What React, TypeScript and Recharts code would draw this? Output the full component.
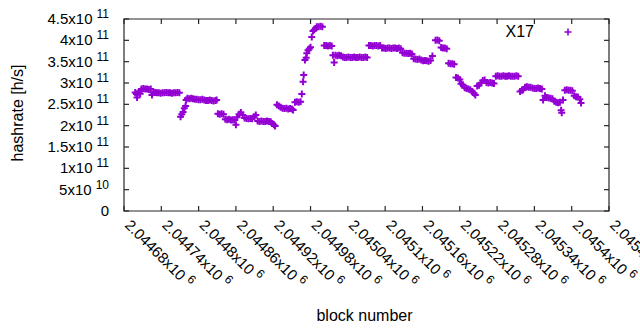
import React from 'react';
import { ScatterChart, Scatter, XAxis, YAxis, Legend, Label } from 'recharts';

const seriesName = 'X17';
const xTitle = 'block number';
const yTitle = 'hashrate [h/s]';

const blockDomain = [2044680, 2045460];
const hashDomain = [0, 4.5e11];
const blockTicks = [
  2044680, 2044740, 2044800, 2044860, 2044920, 2044980, 2045040,
  2045100, 2045160, 2045220, 2045280, 2045340, 2045400, 2045460,
];
const hashTicks = [0, 5e10, 1e11, 1.5e11, 2e11, 2.5e11, 3e11, 3.5e11, 4e11, 4.5e11];

// [block number, hashrate in units of 1e11 h/s]
const samples: [number, number][] = [
  [2044698, 2.78], [2044700, 2.74], [2044701, 2.66], [2044703, 2.77], [2044705, 2.8], [2044706, 2.75],
  [2044708, 2.86], [2044711, 2.87], [2044714, 2.86], [2044717, 2.86], [2044720, 2.85], [2044723, 2.86],
  [2044725, 2.72],
  [2044727, 2.77], [2044730, 2.78], [2044733, 2.77], [2044736, 2.77], [2044739, 2.76], [2044742, 2.77],
  [2044745, 2.77], [2044748, 2.78], [2044751, 2.77], [2044754, 2.77], [2044757, 2.76], [2044760, 2.77],
  [2044763, 2.77], [2044766, 2.78], [2044769, 2.77],
  [2044771, 2.21], [2044773, 2.27], [2044775, 2.32], [2044777, 2.41], [2044779, 2.46], [2044780, 2.6],
  [2044782, 2.64], [2044785, 2.63], [2044788, 2.64], [2044791, 2.63], [2044794, 2.62],
  [2044797, 2.62], [2044800, 2.61], [2044803, 2.61], [2044806, 2.62], [2044809, 2.6],
  [2044812, 2.59], [2044815, 2.59], [2044818, 2.6], [2044821, 2.59], [2044824, 2.58], [2044827, 2.59],
  [2044829, 2.6],
  [2044831, 2.28], [2044834, 2.27], [2044837, 2.28], [2044840, 2.27],
  [2044843, 2.15], [2044846, 2.14], [2044849, 2.15], [2044852, 2.13], [2044855, 2.14], [2044858, 2.13],
  [2044860, 2.02],
  [2044862, 2.2], [2044865, 2.27], [2044868, 2.31], [2044871, 2.25],
  [2044874, 2.18], [2044877, 2.17], [2044880, 2.16], [2044883, 2.17], [2044886, 2.16],
  [2044889, 2.21], [2044892, 2.25],
  [2044895, 2.11], [2044898, 2.1], [2044901, 2.11], [2044904, 2.1], [2044907, 2.1], [2044910, 2.11],
  [2044913, 2.1], [2044916, 2.09],
  [2044918, 2.05], [2044921, 2.02], [2044923, 1.99],
  [2044926, 2.49], [2044929, 2.46], [2044932, 2.43],
  [2044935, 2.41], [2044938, 2.4], [2044941, 2.41], [2044944, 2.39], [2044947, 2.4], [2044950, 2.39],
  [2044952, 2.37],
  [2044955, 2.55], [2044958, 2.56], [2044961, 2.55], [2044964, 2.56],
  [2044966, 2.74], [2044968, 3.03], [2044969, 3.19], [2044971, 3.54], [2044973, 3.59], [2044974, 3.7],
  [2044976, 3.77], [2044978, 3.8], [2044980, 3.84], [2044982, 4.08], [2044984, 4.22], [2044986, 4.25],
  [2044988, 4.28],
  [2044990, 4.32], [2044993, 4.32], [2044996, 4.33], [2044999, 4.32],
  [2045002, 3.88], [2045005, 3.88], [2045008, 3.87], [2045011, 3.88], [2045014, 3.87],
  [2045016, 3.65], [2045018, 3.48], [2045020, 3.65], [2045023, 3.64], [2045026, 3.65], [2045029, 3.64],
  [2045032, 3.61], [2045035, 3.6], [2045038, 3.6], [2045041, 3.61], [2045044, 3.6], [2045047, 3.6],
  [2045050, 3.61], [2045053, 3.6], [2045056, 3.6], [2045059, 3.61], [2045062, 3.6], [2045065, 3.6],
  [2045068, 3.61], [2045071, 3.6],
  [2045074, 3.88], [2045077, 3.88], [2045080, 3.87], [2045083, 3.88], [2045086, 3.88], [2045089, 3.87],
  [2045092, 3.88],
  [2045095, 3.82], [2045098, 3.82], [2045101, 3.81], [2045104, 3.82], [2045107, 3.82], [2045110, 3.81],
  [2045113, 3.82], [2045116, 3.82], [2045119, 3.81], [2045122, 3.82], [2045125, 3.8],
  [2045128, 3.71], [2045131, 3.7], [2045134, 3.7], [2045137, 3.69], [2045140, 3.7], [2045143, 3.68],
  [2045146, 3.57], [2045149, 3.56], [2045152, 3.55], [2045155, 3.56], [2045158, 3.54], [2045161, 3.52],
  [2045164, 3.53], [2045167, 3.52], [2045170, 3.51], [2045173, 3.53], [2045176, 3.63],
  [2045181, 4.0], [2045184, 4.01], [2045187, 3.99],
  [2045190, 3.83], [2045193, 3.82], [2045196, 3.82], [2045199, 3.8],
  [2045202, 3.46], [2045205, 3.45], [2045208, 3.45], [2045211, 3.44],
  [2045214, 3.13], [2045217, 3.12], [2045220, 3.08],
  [2045222, 2.98], [2045225, 2.96],
  [2045228, 2.89], [2045231, 2.87], [2045234, 2.86], [2045237, 2.84],
  [2045240, 2.8], [2045243, 2.76], [2045245, 2.72],
  [2045248, 2.93], [2045251, 2.95], [2045254, 3.0], [2045257, 3.06], [2045260, 3.07],
  [2045263, 3.01], [2045266, 3.0], [2045269, 3.01], [2045272, 3.0], [2045275, 2.99],
  [2045278, 3.16], [2045281, 3.17], [2045284, 3.16], [2045287, 3.16], [2045290, 3.17], [2045293, 3.16],
  [2045296, 3.16], [2045299, 3.17], [2045302, 3.16], [2045305, 3.16], [2045308, 3.16], [2045311, 3.17],
  [2045314, 3.16],
  [2045317, 2.8], [2045320, 2.83], [2045322, 2.84],
  [2045325, 2.9], [2045328, 2.91], [2045331, 2.9], [2045334, 2.9],
  [2045337, 2.88], [2045340, 2.87], [2045343, 2.87], [2045346, 2.88], [2045349, 2.87], [2045352, 2.86],
  [2045354, 2.6], [2045357, 2.7],
  [2045360, 2.66], [2045363, 2.65], [2045366, 2.64], [2045369, 2.63],
  [2045372, 2.57], [2045375, 2.55], [2045378, 2.54], [2045381, 2.55],
  [2045383, 2.36], [2045384, 2.3], [2045386, 2.6],
  [2045389, 2.83], [2045392, 2.84], [2045395, 2.83], [2045398, 2.83], [2045401, 2.82],
  [2045404, 2.7], [2045407, 2.68], [2045410, 2.67],
  [2045413, 2.62], [2045415, 2.53],
];

const data = samples.map(([block, h]) => ({ block, hashrate: h * 1e11 }));

const FONT = '"Liberation Sans", Arial, sans-serif';
const PURPLE = '#9400d3';
const INK = '#000';
const FRAME = '#262626';

// layout
const W = 640;
const H = 330;
const margin = { top: 19, right: 31, left: 0, bottom: 0 };
const yAxisW = 124;
const xAxisH = 119;
const plotW = W - yAxisW - margin.right;
const plotH = H - margin.top - xAxisH;
const tickGap = 15;
const tickLen = 5;

// gnuplot style "2.5x10^11"
const sci = (v: number): [string, string] => {
  if (v === 0) return ['0', ''];
  const e = Math.floor(Math.log10(v) + 1e-9);
  const m = parseFloat((v / Math.pow(10, e)).toFixed(5)).toString();
  return [m + 'x10', String(e)];
};

// y label plus inward ticks on the left and right borders
const YTick = (props: any) => {
  const { x, y, payload } = props;
  const [base, exp] = sci(payload.value);
  const left = Number(x) + tickGap;
  const yy = Number(y);
  return (
    <g>
      <polyline points={`${left},${yy} ${left + tickLen},${yy}`} stroke={FRAME} strokeWidth={1.2} fill="none" />
      <polyline points={`${left + plotW},${yy} ${left + plotW - tickLen},${yy}`} stroke={FRAME} strokeWidth={1.2} fill="none" />
      <text x={x} y={y} dy={5} textAnchor="end" fontSize={15} fontFamily={FONT} fill={INK}>
        {base}
        {exp && <tspan dx={4} dy={-6} fontSize={12}>{exp}</tspan>}
      </text>
    </g>
  );
};

// x label plus inward ticks on the bottom and top borders
const XTick = (props: any) => {
  const { x, y, payload } = props;
  const [base, exp] = sci(payload.value);
  const xx = Number(x);
  const bottom = Number(y) - tickGap;
  return (
    <g>
      <polyline points={`${xx},${bottom} ${xx},${bottom - tickLen}`} stroke={FRAME} strokeWidth={1.2} fill="none" />
      <polyline points={`${xx},${bottom - plotH} ${xx},${bottom - plotH + tickLen}`} stroke={FRAME} strokeWidth={1.2} fill="none" />
      <g transform={`translate(${x},${y}) rotate(45)`}>
        <text x={0} y={0} textAnchor="start" fontSize={15} fontFamily={FONT} fill={INK}>
          {base}
          {exp && <tspan dx={4} dy={-6} fontSize={12}>{exp}</tspan>}
        </text>
      </g>
    </g>
  );
};

const Plus = (props: any) => {
  const { cx, cy } = props;
  return (
    <path
      d={`M${cx - 3.5},${cy}H${cx + 3.5}M${cx},${cy - 3.5}V${cy + 3.5}`}
      stroke={PURPLE}
      strokeWidth={2}
      fill="none"
    />
  );
};

const LegendBox = (props: any) => {
  const name = props.payload && props.payload[0] ? props.payload[0].value : seriesName;
  return (
    <div style={{ display: 'flex', alignItems: 'center', height: 18, fontFamily: FONT, fontSize: 16 }}>
      <span style={{ width: 54, textAlign: 'right', lineHeight: '18px' }}>{name}</span>
      <svg width={72} height={18}>
        <path d="M30.5,9H37.5M34,5.5V12.5" stroke={PURPLE} strokeWidth={1.6} fill="none" />
      </svg>
    </div>
  );
};

const YTitle = (props: any) => {
  const { viewBox } = props;
  const cy = viewBox.y + viewBox.height / 2 - 2;
  return (
    <text
      x={17}
      y={cy}
      transform={`rotate(-90, 17, ${cy})`}
      textAnchor="middle"
      dominantBaseline="central"
      fontSize={16}
      fontFamily={FONT}
      fill={INK}
    >
      {yTitle}
    </text>
  );
};

// x title plus the plot frame, placed from the x axis box
const XTitle = (props: any) => {
  const { viewBox } = props;
  const l = viewBox.x;
  const r = viewBox.x + viewBox.width;
  const b = viewBox.y;
  const t = viewBox.y - plotH;
  const cx = viewBox.x + viewBox.width / 2 - 2;
  return (
    <g>
      <polygon points={`${l},${t} ${r},${t} ${r},${b} ${l},${b}`} stroke={FRAME} strokeWidth={1.2} fill="none" />
      <text x={cx} y={viewBox.y + viewBox.height - 9} textAnchor="middle" fontSize={16} fontFamily={FONT} fill={INK}>
        {xTitle}
      </text>
    </g>
  );
};

export default function App() {
  return (
    <div style={{ position: 'absolute', left: 0, top: 0, background: '#fff' }}>
      <ScatterChart width={W} height={H} margin={margin}>
        <XAxis
          dataKey="block"
          type="number"
          domain={blockDomain}
          ticks={blockTicks}
          interval={0}
          height={xAxisH}
          tickSize={0}
          tickMargin={tickGap}
          tick={<XTick />}
          axisLine={false}
          tickLine={false}
        >
          <Label content={<XTitle />} />
        </XAxis>
        <YAxis
          dataKey="hashrate"
          type="number"
          domain={hashDomain}
          ticks={hashTicks}
          interval={0}
          width={yAxisW}
          tickSize={0}
          tickMargin={tickGap}
          tick={<YTick />}
          axisLine={false}
          tickLine={false}
        >
          <Label content={<YTitle />} />
        </YAxis>
        <Legend
          layout="vertical"
          align="center"
          verticalAlign="middle"
          content={<LegendBox />}
          wrapperStyle={{ position: 'absolute', left: 480, top: 23, width: 130, height: 18 }}
        />
        <Scatter name={seriesName} data={data} shape={<Plus />} fill={PURPLE} isAnimationActive={false} />
      </ScatterChart>
    </div>
  );
}
